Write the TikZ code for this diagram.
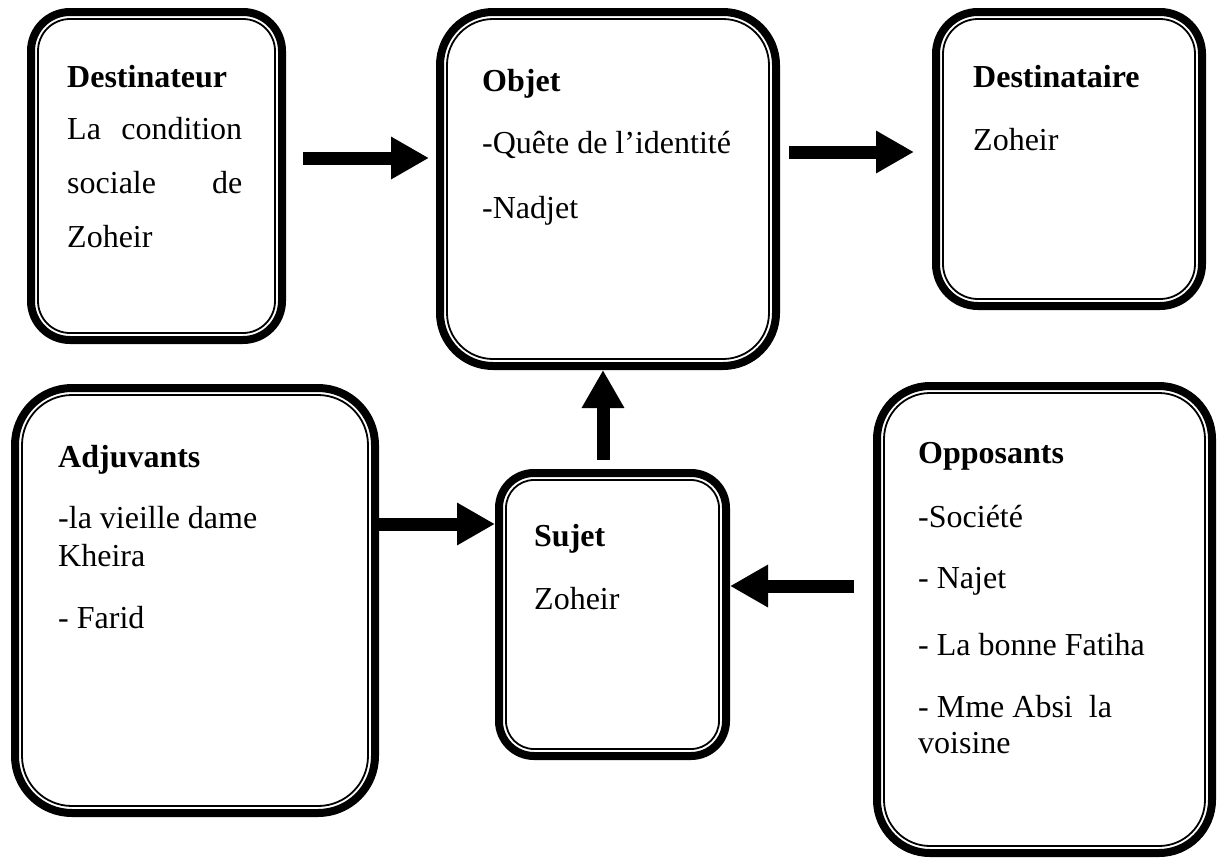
\documentclass[tikz,border=0pt]{standalone}
\usepackage{fontspec}
\setmainfont{Liberation Serif}
\usetikzlibrary{arrows.meta}
\begin{document}
\begin{tikzpicture}[x=1pt,y=1pt,
  abox/.style={draw=black, line width=8pt, inner sep=0pt, outer sep=0pt},
  inline/.style={draw=black, line width=1.8pt},
  txt/.style={anchor=base west, inner sep=0pt, font=\fontsize{32}{38}\selectfont},
  head/.style={txt, font=\fontsize{32}{38}\selectfont\bfseries},
  blockarrow/.style={line width=13pt, -{Triangle[length=38pt,width=40pt]}}
]
\useasboundingbox (0,0) rectangle (1219,-860);

% boxes
\node[abox, minimum width=251pt, minimum height=328pt, rounded corners=39pt] (dest) at (156.5,-176) {};
\draw[inline, rounded corners=32pt] ([shift={(7pt,-7pt)}]dest.north west) rectangle ([shift={(-7pt,7pt)}]dest.south east);

\node[abox, minimum width=336pt, minimum height=354pt, rounded corners=53pt] (obj) at (608,-189) {};
\draw[inline, rounded corners=46pt] ([shift={(7pt,-7pt)}]obj.north west) rectangle ([shift={(-7pt,7pt)}]obj.south east);

\node[abox, minimum width=266pt, minimum height=294pt, rounded corners=42pt] (dtr) at (1069,-159) {};
\draw[inline, rounded corners=35pt] ([shift={(7pt,-7pt)}]dtr.north west) rectangle ([shift={(-7pt,7pt)}]dtr.south east);

\node[abox, minimum width=360pt, minimum height=425pt, rounded corners=57pt] (adj) at (195,-600.5) {};
\draw[inline, rounded corners=50pt] ([shift={(7pt,-7pt)}]adj.north west) rectangle ([shift={(-7pt,7pt)}]adj.south east);

\node[abox, minimum width=227pt, minimum height=283pt, rounded corners=35pt] (suj) at (612.5,-614.5) {};
\draw[inline, rounded corners=28pt] ([shift={(7pt,-7pt)}]suj.north west) rectangle ([shift={(-7pt,7pt)}]suj.south east);

\node[abox, minimum width=335pt, minimum height=467pt, rounded corners=53pt] (opp) at (1044.5,-619.5) {};
\draw[inline, rounded corners=46pt] ([shift={(7pt,-7pt)}]opp.north west) rectangle ([shift={(-7pt,7pt)}]opp.south east);

% texts
\node[head] (t1) at (67,-87) {Destinateur};
\node[txt] (t2) at (67,-139) {\hbox to 175pt{La\hfill condition}};
\node[txt] (t3) at (67,-193) {\hbox to 175pt{sociale\hfill de}};
\node[txt] (t4) at (67,-247) {Zoheir};

\node[head] (o1) at (482,-91) {Objet};
\node[txt] (o2) at (482,-153) {-Quête de l’identité};
\node[txt] (o3) at (482,-218) {-Nadjet};

\node[head] (r1) at (973,-87) {Destinataire};
\node[txt] (r2) at (973,-150) {Zoheir};

\node[head] (a1) at (58,-467) {Adjuvants};
\node[txt] (a2) at (58,-528) {-la vieille dame};
\node[txt] (a3) at (58,-566) {Kheira};
\node[txt] (a4) at (58,-628) {- Farid};

\node[head] (s1) at (534,-546) {Sujet};
\node[txt] (s2) at (534,-609) {Zoheir};

\node[head] (p1) at (918,-463) {Opposants};
\node[txt] (p2) at (918,-527) {-Société};
\node[txt] (p3) at (918,-588) {- Najet};
\node[txt] (p4) at (918,-655) {- La bonne Fatiha};
\node[txt] (p5) at (918,-717) {- Mme Absi\ \ la};
\node[txt] (p6) at (918,-753) {voisine};

% arrows
\draw[blockarrow] ([shift={(21pt,18pt)}]dest.east) -- ([shift={(-11pt,31pt)}]obj.west);
\draw[blockarrow] ([shift={(13pt,37pt)}]obj.east) -- ([shift={(-22pt,7pt)}]dtr.west);
\draw[blockarrow] ([shift={(-9.5pt,13pt)}]suj.north) -- ([shift={(-5pt,-4pt)}]obj.south);
\draw[blockarrow] ([shift={(4pt,76.5pt)}]adj.east) -- ([shift={(-4pt,90.5pt)}]suj.west);
\draw[blockarrow] ([shift={(-23pt,33.5pt)}]opp.west) -- ([shift={(4pt,28.5pt)}]suj.east);
\end{tikzpicture}
\end{document}
